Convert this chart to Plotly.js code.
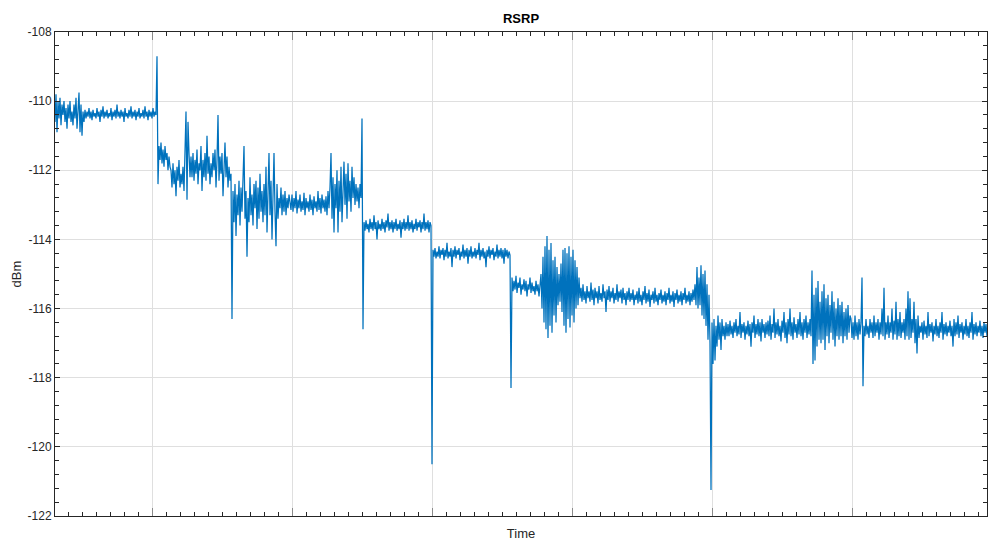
<!DOCTYPE html>
<html>
<head>
<meta charset="utf-8">
<script src="https://cdn.plot.ly/plotly-3.0.1.min.js"></script>
<style>html,body{margin:0;padding:0;background:#fff;}#chart{width:988px;height:541px;}</style>
</head>
<body>
<div id="chart"></div>
<script>
// RSRP samples (dBm), in time order
const segA = [-110.6,-109.8,-110.9,-110.0,-110.5,-109.9,-110.7,-110.1,-110.4,-110.0,
-110.6,-110.2,-110.8,-110.1,-110.5,-110.0,-110.6,-110.3,-110.7,-110.1,
-110.5,-109.9,-110.8,-110.2,-109.75,-110.9,-110.1,-111.0,-110.3,-110.6];
const segB = [-110.25,-110.5,-110.3,-110.45,-110.2,-110.5,-110.3,-110.55,-110.25,-110.45,
-110.35,-110.5,-110.2,-110.45,-110.3,-110.6,-110.25,-110.45,-110.15,-110.5,
-110.3,-110.45,-110.25,-110.5,-110.35,-110.45,-110.2,-110.55,-110.3,-110.45,
-110.25,-110.5,-110.1,-110.45,-110.3,-110.5,-110.25,-110.45,-110.3,-110.6,
-110.2,-110.45,-110.35,-110.5,-110.25,-110.45,-110.15,-110.5,-110.3,-110.45,
-110.25,-110.55,-110.3,-110.45,-110.2,-110.5,-110.35,-110.45,-110.25,-110.5,
-110.15,-110.45,-110.3,-110.55,-110.25,-110.45,-110.3,-110.5,-110.2,-110.45,
-110.3,-110.4,
-108.7,-112.4];
const segC = [-111.3,-111.7,-111.2,-111.8,-111.4,-111.9,-111.3,-111.7,-111.5,-112.0,-111.6,-111.9,
-112.0,-112.5,-111.8,-112.4,-112.0,-112.75,-111.9,-112.3,-111.7,-112.5,-112.1,-112.4,-111.9,-112.6,
-111.2,-110.3,-112.85,-110.6,-111.5,-112.2,
-111.6,-112.2,-111.5,-112.3,-111.7,-112.1,-111.4,-112.4,-111.8,-112.0,
-111.3,-112.6,-111.7,-112.2,-111.5,-112.3,-111.0,-112.1,-111.6,-112.4,
-111.8,-112.2,-111.5,-112.0,-111.4,-112.5,-111.7,-110.4,-112.3,-111.6,
-112.1,-111.5,-112.75,-111.8,-111.2,-112.2,-111.6,-112.5,-111.9,-112.3,-112.1,
-116.3];
const segD = [-112.6,-113.5,-112.4,-113.9,-112.7,-113.3,-112.3,-113.6,-112.5,-113.2,
-112.2,-111.3,-113.4,-112.6,-114.5,-112.8,-113.5,-112.2,-113.3,-112.7,
-113.6,-112.4,-113.1,-112.3,-113.7,-112.5,-113.4,-112.1,-113.2,-112.6,
-113.5,-112.4,-113.3,-111.9,-113.8,-112.5,-111.5,-113.3,-112.3,-114.0,
-112.6,-111.5,-113.2,-114.2,-112.4,-113.4,-112.8,-113.1,-112.5,-113.3,
-112.7,-113.2,-112.6,-113.3,-112.8,-113.1,-112.7];
const segE = [-112.9,-113.15,-112.7,-113.2,-112.8,-113.1,-112.6,-113.25,-112.85,-113.1,
-112.7,-113.2,-112.9,-113.15,-112.65,-113.3,-112.8,-113.1,-112.9,-113.2,
-112.7,-113.15,-112.85,-113.3,-112.75,-113.1,-112.9,-113.2,-112.6,-113.15,
-112.8,-113.25,-112.7,-113.1,-112.85,-113.2,-112.75,-113.3,-112.6,-113.1];
const segF = [-112.5,-111.5,-113.4,-112.2,-113.8,-112.4,-113.1,-112.0,-113.8,-112.3,
-113.2,-111.9,-113.5,-112.2,-111.75,-113.0,-112.1,-113.4,-111.8,-112.9,
-112.3,-113.2,-111.9,-112.8,-112.2,-113.0,-112.4,-112.9,-112.5,-113.1,
-112.4,-112.8,
-110.5,-116.6];
const segG = [-113.5,-113.75,-113.45,-113.7,-113.55,-113.8,-113.4,-113.7,-113.5,-113.75,
-113.3,-113.7,-113.5,-114.0,-113.45,-113.7,-113.55,-113.75,-113.4,-113.7,
-113.5,-113.8,-113.45,-113.65,-113.25,-113.75,-113.5,-113.7,-113.45,-113.8,
-113.5,-113.7,-113.4,-113.75,-113.55,-113.7,-113.45,-113.95,-113.5,-113.7,
-113.4,-113.75,-113.5,-113.7,-113.3,-113.75,-113.5,-113.7,-113.45,-113.8,
-113.55,-113.7,-113.4,-113.75,-113.5,-113.65,-113.45,-113.8,-113.5,-113.7,
-113.25,-113.75,-113.5,-113.7,-113.45,-113.8,-113.5,-113.6,
-120.5];
const segH = [-114.3,-114.5,-114.25,-114.55,-114.35,-114.5,-114.2,-114.55,-114.3,-114.45,
-114.25,-114.6,-114.3,-114.5,-114.1,-114.55,-114.35,-114.5,-114.25,-114.8,
-114.3,-114.5,-114.2,-114.55,-114.3,-114.45,-114.25,-114.6,-114.35,-114.5,
-114.15,-114.55,-114.3,-114.5,-114.25,-114.7,-114.3,-114.5,-114.2,-114.55,
-114.35,-114.5,-114.25,-114.55,-114.3,-114.45,-114.1,-114.6,-114.3,-114.5,
-114.25,-114.55,-114.35,-114.8,-114.3,-114.5,-114.2,-114.55,-114.3,-114.45,
-114.25,-114.6,-114.35,-114.5,-114.15,-114.55,-114.3,-114.5,-114.25,-114.55,
-114.3,-114.7,-114.25,-114.5,-114.3,-114.55,-114.35,-114.45,
-118.3];
const segI = [-115.1,-115.5,-115.2,-115.45,-115.05,-115.55,-115.25,-115.4,-115.1,-115.6,
-115.3,-115.45,-115.15,-115.5,-115.2,-115.65,-115.3,-115.45,-115.1,-115.55,
-115.25,-115.5,-115.35,-115.6,-115.2,-115.5,-115.3,-115.65,-115.2];
const segJ = [-115.0,-116.0,-114.5,-116.4,-114.2,-116.6,-113.9,-116.85,-114.3,-116.5,
-114.1,-116.7,-114.6,-116.2,-114.5,-116.4,-114.8,-115.9,-115.0,-115.8,
-114.7,-116.1,-114.3,-116.5,-114.25,-116.7,-114.4,-116.3,-114.2,-116.55,
-114.5,-116.2,-114.3,-116.4,-114.6,-116.0,-114.8,-115.9,-115.1,-115.7];
const segK = [-115.4,-115.8,-115.3,-115.75,-115.5,-115.85,-115.35,-115.7,-115.5,-115.8,
-115.25,-115.75,-115.45,-115.9,-115.4,-115.7,-115.5,-115.85,-115.35,-115.75,
-115.55,-115.8,-115.3,-115.7,-115.5,-116.1,-115.45,-115.75,-115.35,-115.8,
-115.5,-115.7,-115.4,-115.85,-115.55,-115.75,-115.3,-115.8,-115.5,-115.7,
-115.45,-115.85,-115.4,-115.75,-115.55,-115.9,-115.5,-115.75,-115.4,-115.8,
-115.55,-115.75,-115.45,-115.9,-115.6,-115.75,-115.5,-115.85,-115.4,-115.8,
-115.6,-115.9,-115.5,-115.75,-115.35,-115.85,-115.55,-115.8,-115.45,-115.95,
-115.6,-115.75,-115.5,-115.85,-115.4,-115.8,-115.6,-115.9,-115.55,-115.75,
-115.45,-115.85,-115.6,-115.8,-115.5,-115.9,-115.55,-115.75,-115.4,-115.85,
-115.6,-115.8,-115.5,-115.95,-115.55,-115.75,-115.45,-115.85,-115.6,-115.8,
-115.5,-115.9,-115.55,-115.75,-115.4,-115.85,-115.6,-115.8,-115.5,-115.9,
-115.55,-115.8,-115.45,-115.75];
const segL = [-115.3,-115.9,-114.8,-116.0,-115.1,-115.9,-114.75,-116.2,-115.0,-116.3,
-114.9,-116.5,-115.3,-116.9,-115.6,-117.0,
-121.25];
const segM1 = [-116.4,-117.6,-116.3,-117.5,-116.5,-117.1,-116.2,-116.9,-116.4,-117.2,
-116.3,-116.8,-116.5,-116.9,-116.4,-116.8];
const segM2 = [-116.45,-116.8,-116.35,-116.75,-116.5,-116.85,-116.4,-116.7,-116.3,-116.8,
-116.5,-116.75,-116.1,-116.85,-116.45,-116.7,-116.4,-116.9,-116.5,-116.75,
-116.35,-116.8,-116.45,-117.1,-116.4,-116.7,-116.2,-116.85,-116.45,-116.75,
-116.3,-116.8,-116.4,-116.95,-116.3,-116.7,-116.45,-116.85,-116.4,-116.75,
-116.35,-116.8,-116.2,-116.9,-116.45,-116.7,-116.0,-116.85,-116.4,-116.75,
-116.3,-116.8,-116.5,-116.95,-116.35,-116.7,-116.1,-116.85,-116.4,-117.0,
-116.3,-116.75,-116.0,-116.8,-116.4,-116.9,-116.25,-116.7,-116.45,-116.85,
-116.3,-116.75,-116.1,-116.8,-116.4,-116.9,-116.3,-116.7,-116.2,-116.85,
-116.4,-116.75,-116.3,-116.8];
const segM3 = [-114.9,-117.6,-115.6,-117.5,-115.4,-117.1,-115.2,-116.9,-115.8,-117.0,
-115.5,-116.9,-115.3,-117.2,-115.7,-116.8,-115.6,-117.0,-115.9,-116.7,
-115.5,-116.9,-115.8,-117.1,-116.0,-116.8,-115.7,-116.9,-115.9,-116.8,
-115.8,-117.0,-116.1,-116.8,-116.0,-116.9,-115.9,-116.7,-116.2];
const segM4 = [-116.3,-116.85,-116.4,-116.9,-116.2,-116.8,-116.4,-116.9,-116.3,-116.75,
-116.4,-115.1,-118.25,-116.5,
-116.8,-116.3,-116.75,-116.5,-116.85,-116.3,-116.7,-116.4,-116.85,-116.2,
-116.8,-116.4,-116.7,-116.3,-116.9,-116.4,-116.75,-116.0,-116.8,-115.4,
-116.9,-116.4,-116.75,-116.2,-116.85,-116.4,-116.7,-116.0,-116.9,-116.35,
-116.75,-115.8,-116.9,-116.3,-116.8,-116.1,-116.85,-116.4,-116.7,-116.3,
-116.9,-116.0,-116.8,-115.5,-116.9,-115.7,-116.85,-116.3,-116.7,-115.8,
-117.0,-116.3,-117.3,-116.2,-116.85,-116.5,-116.7,-116.4,-116.9,-116.35,
-116.75,-116.5,-116.85,-116.1,-116.8,-116.45,-116.7,-116.4,-116.95,-116.5,
-116.75,-116.3,-116.8,-116.5,-116.85,-116.4,-116.7,-116.1,-116.9,-116.45,
-116.75,-116.4,-116.8,-116.5,-116.7,-116.35,-116.8,-116.5,-117.1,-116.3,
-116.8,-116.4,-116.75,-116.2,-116.85,-116.45,-116.7,-116.4,-116.9,-116.5,
-116.75,-116.3,-116.8,-116.5,-116.85,-116.4,-116.7,-116.1,-116.9,-116.45,
-116.75,-116.4,-116.8,-116.5,-116.7,-116.35,-116.8,-116.5,-116.85,-116.4,
-116.7,-116.45,-116.8];

const rsrp = [].concat(segA, segB, segC, segD, segE, segF, segG, segH, segI, segJ, segK, segL, segM1, segM2, segM3, segM4);
const sampleIndex = rsrp.map((_, i) => i);

const yTickVals = [-122,-120,-118,-116,-114,-112,-110,-108];
const yTickText = ['-122','-120','-118','-116','-114','-112','-110','-108'];

const N = rsrp.length - 1;
const plotW = 932;
const xTick0 = 97.3 / plotW * N;
const xDtick = 140.1 / plotW * N;

const axisColor = '#262626';
const gridColor = '#dfdfdf';
const fontFam = 'Liberation Sans, Arial, Helvetica, sans-serif';

const trace = {
  x: sampleIndex, y: rsrp, type: 'scatter', mode: 'lines',
  line: {color: '#0072BD', width: 1.25}, hoverinfo: 'skip'
};

const layout = {
  width: 988, height: 541,
  margin: {l: 55, r: 1, t: 32, b: 25, pad: 0},
  paper_bgcolor: '#ffffff', plot_bgcolor: '#ffffff',
  showlegend: false,
  font: {family: fontFam, size: 12, color: axisColor},
  title: {text: '<b>RSRP</b>', font: {family: fontFam, size: 13, color: '#000'}, x: 0.5, xref: 'paper', y: 1, yref: 'paper', yanchor: 'bottom', pad: {b: 9}},
  xaxis: {
    range: [0, N], showticklabels: false,
    tick0: xTick0, dtick: xDtick, tickmode: 'linear',
    ticks: 'inside', ticklen: 8, tickcolor: '#8a8a8a', tickwidth: 1,
    showgrid: true, gridcolor: gridColor, gridwidth: 1,
    showline: true, linecolor: axisColor, linewidth: 1, mirror: 'ticks',
    zeroline: false,
    minor: {tick0: xTick0, dtick: xDtick / 10, ticks: 'inside', ticklen: 4, tickcolor: axisColor, showgrid: false},
    title: {text: 'Time', font: {family: fontFam, size: 13, color: axisColor}, standoff: 15}
  },
  yaxis: {
    range: [-122, -108], tickmode: 'array', tickvals: yTickVals, ticktext: yTickText,
    ticks: 'inside', ticklen: 5, tickcolor: axisColor, tickwidth: 1,
    showgrid: true, gridcolor: gridColor, gridwidth: 1,
    showline: true, linecolor: axisColor, linewidth: 1, mirror: 'ticks',
    zeroline: false,
    minor: {tick0: -122, dtick: 0.4, ticks: 'inside', ticklen: 4, tickcolor: axisColor, showgrid: false},
    tickfont: {family: fontFam, size: 12, color: axisColor},
    title: {text: 'dBm', font: {family: fontFam, size: 13, color: axisColor}, standoff: 3}
  }
};

Plotly.newPlot('chart', [trace], layout, {staticPlot: true, displayModeBar: false});
</script>
</body>
</html>
